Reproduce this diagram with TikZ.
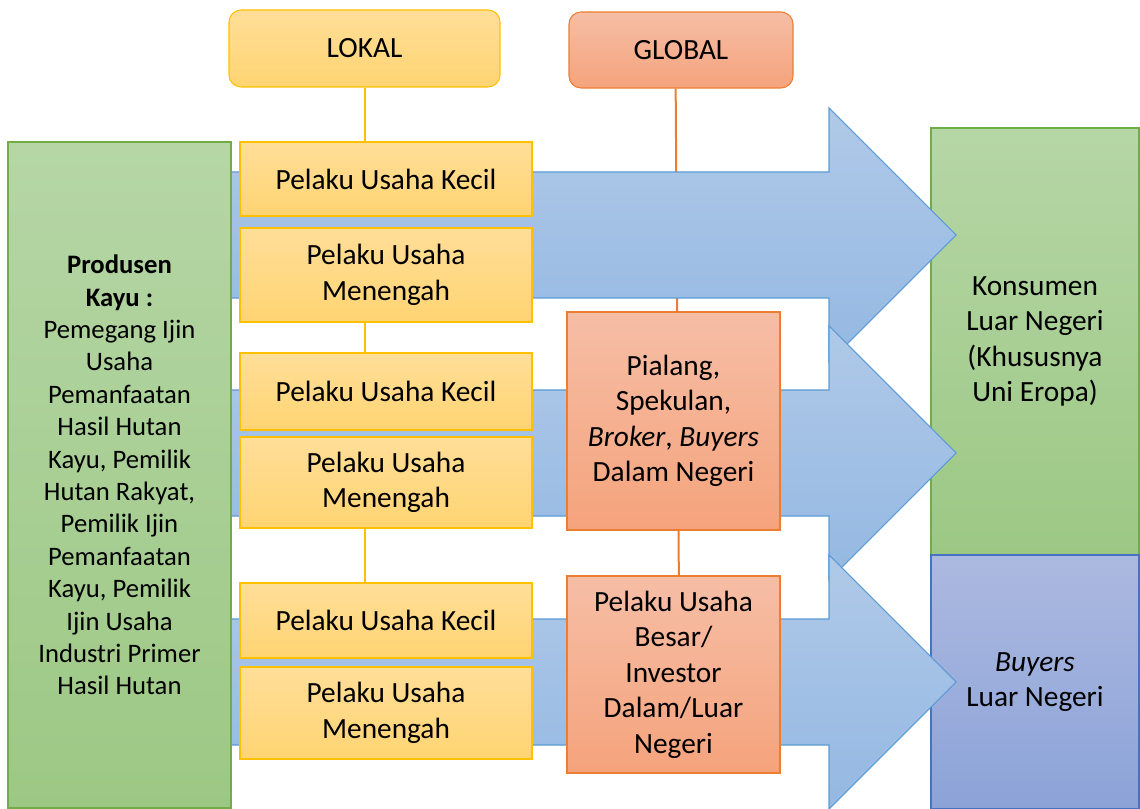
\documentclass[tikz,border=0pt]{standalone}
\usepackage{fontspec}
\setmainfont{Carlito}
\usetikzlibrary{backgrounds}
\definecolor{kuningA}{RGB}{255,222,152}
\definecolor{kuningB}{RGB}{255,212,114}
\definecolor{kuningG}{RGB}{255,192,0}
\definecolor{merahA}{RGB}{246,190,166}
\definecolor{merahB}{RGB}{245,163,124}
\definecolor{merahG}{RGB}{237,125,49}
\definecolor{hijauA}{RGB}{182,214,166}
\definecolor{hijauB}{RGB}{156,200,132}
\definecolor{hijauG}{RGB}{112,173,71}
\definecolor{biruA}{RGB}{176,201,232}
\definecolor{biruB}{RGB}{148,184,226}
\definecolor{biruG}{RGB}{91,155,213}
\definecolor{unguA}{RGB}{172,185,224}
\definecolor{unguB}{RGB}{140,163,216}
\definecolor{unguG}{RGB}{68,114,196}
\begin{document}
\begin{tikzpicture}[x=0.75pt,y=-0.75pt,
  box/.style={line width=0.8pt,align=center,inner sep=2pt,font=\fontsize{22}{26.6}\selectfont},
  kuning/.style={box,draw=kuningG,top color=kuningA,bottom color=kuningB,minimum width=219pt},
  merah/.style={box,draw=merahG,top color=merahA,bottom color=merahB},
  hijau/.style={box,draw=hijauG,top color=hijauA,bottom color=hijauB},
  ungu/.style={box,draw=unguG,top color=unguA,bottom color=unguB},
  panah/.style={line width=0.8pt,draw=biruG,top color=biruA,bottom color=biruB}]
\useasboundingbox (0,0) rectangle (1140,809);
\node[hijau,minimum width=156pt,minimum height=320.25pt] at (1035,341.5) (R1) {Konsumen\\Luar Negeri\\(Khususnya\\Uni Eropa)};
\node[ungu,minimum width=156pt,minimum height=190.5pt] at (1035,682) (R2) {\textit{Buyers}\\Luar Negeri};
\foreach \c in {235,453,682}
  \draw[panah] (225,\c-63) -- (829,\c-63) -- (829,\c-127) -- (956,\c) -- (829,\c+127) -- (829,\c+63) -- (225,\c+63) -- cycle;
\node[hijau,minimum width=167.25pt,minimum height=499.5pt,font=\fontsize{20}{24.3}\selectfont] at (119.5,475) (P) {\textbf{Produsen}\\\textbf{Kayu :}\\Pemegang Ijin\\Usaha\\Pemanfaatan\\Hasil Hutan\\Kayu, Pemilik\\Hutan Rakyat,\\Pemilik Ijin\\Pemanfaatan\\Kayu, Pemilik\\Ijin Usaha\\Industri Primer\\Hasil Hutan};
\node[kuning,minimum height=55.5pt] at (386,179) (K1) {Pelaku Usaha Kecil};
\node[kuning,minimum height=70.5pt] at (386,275) (M1) {Pelaku Usaha\\Menengah};
\node[kuning,minimum height=57.75pt] at (386,391.5) (K2) {Pelaku Usaha Kecil};
\node[kuning,minimum height=68.25pt] at (386,482.5) (M2) {Pelaku Usaha\\Menengah};
\node[kuning,minimum height=56.25pt] at (386,620.5) (K3) {Pelaku Usaha Kecil};
\node[kuning,minimum height=69pt] at (386,713) (M3) {Pelaku Usaha\\Menengah};
\node[merah,minimum width=159.75pt,minimum height=163.5pt] at (673.5,421) (S) {Pialang,\\Spekulan,\\\textit{Broker}, \textit{Buyers}\\Dalam Negeri};
\node[merah,minimum width=159.75pt,minimum height=147.75pt] at (673.5,674.5) (B) {Pelaku Usaha\\Besar/\\Investor\\Dalam/Luar\\Negeri};
\node[box,draw=kuningG,top color=kuningA,bottom color=kuningB,rounded corners=9pt,minimum width=203.25pt,minimum height=57.75pt] at (364.5,48.5) (L) {LOKAL};
\node[merah,rounded corners=9pt,minimum width=168pt,minimum height=57pt] at (681,50) (G) {GLOBAL};
\begin{scope}[on background layer]
\draw[kuningG,line width=1.5pt] (L.south) -- (L.south |- K3.north);
\draw[merahG,line width=1.5pt] ([xshift=-4pt]G.south) -- ([xshift=4pt]B.north);
\end{scope}
\end{tikzpicture}
\end{document}
